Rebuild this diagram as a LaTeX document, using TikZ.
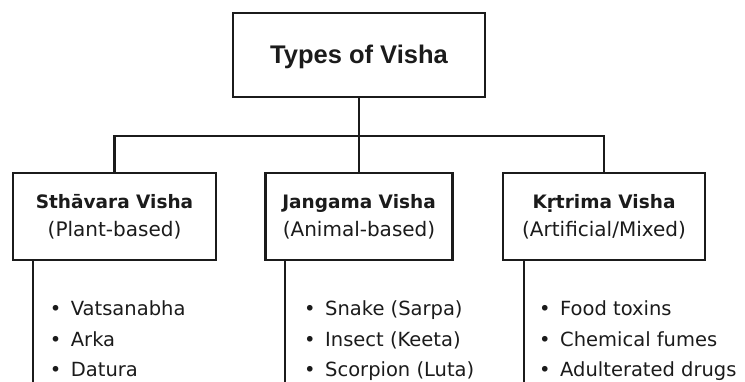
\documentclass[tikz,border=0pt]{standalone}
\usepackage{fontspec}
\setmainfont{DejaVu Sans}
\newfontfamily\headfont{Liberation Sans}
\usetikzlibrary{positioning,calc}
\definecolor{ink}{HTML}{1B1B1B}
\tikzset{
  every node/.style={text=ink},
  link/.style={draw=ink,line width=2.3pt},
  rootbox/.style={draw=ink,line width=2.5pt,fill=white,minimum width=252pt,minimum height=84pt,inner sep=0pt,
    font=\headfont\bfseries\fontsize{25.5}{30}\selectfont,execute at begin node=\rule{0pt}{22pt}},
  typebox/.style={draw=ink,line width=2.5pt,fill=white,minimum height=87pt,inner sep=0pt,align=center,
    font=\fontsize{20}{28}\selectfont,execute at begin node=\rule{0pt}{17.6pt}},
  item/.style={font=\fontsize{19.5}{24}\selectfont,anchor=base west,inner sep=0pt}
}
\begin{document}
\begin{tikzpicture}[x=1pt,y=-1pt]
  \path[use as bounding box] (0,0) rectangle (745,382);
  \node[rootbox] (root) at (359,55) {Types of Visha};

  \node[typebox,minimum width=203pt] (sthavara) at (114.5,216.5) {\textbf{\fontsize{18.5}{28}\selectfont Sthāvara Visha}\\(Plant-based)};
  \node[typebox,minimum width=187pt] (jangama) at (359,216.5) {\textbf{\fontsize{18.5}{28}\selectfont Jangama Visha}\\(Animal-based)};
  \node[typebox,minimum width=202pt] (krtrima) at (604,216.5) {\textbf{\fontsize{18.5}{28}\selectfont Kṛtrima Visha}\\(Artificial/Mixed)};

  % tree connectors
  \draw[link] (root.south) -- ++(0,38) coordinate (hub);
  \draw[link] (sthavara.north) |- (hub) -| (krtrima.north);
  \draw[link] (hub) -- (jangama.north);

  % stems under each type
  \draw[link] ([xshift=21pt]sthavara.south west) -- ++(0,130);
  \draw[link] ([xshift=21pt]jangama.south west) -- ++(0,130);
  \draw[link] ([xshift=22pt]krtrima.south west) -- ++(0,130);

  % examples
  \foreach \t [count=\i] in {Vatsanabha,Arka,Datura}
    \node[item] (plant\i) at (49.7,285.5+30.5*\i) {\makebox[21pt][l]{•}\t};
  \foreach \t [count=\i] in {Snake (Sarpa),Insect (Keeta),Scorpion (Luta)}
    \node[item] (animal\i) at (304,285.5+30.5*\i) {\makebox[21pt][l]{•}\t};
  \foreach \t [count=\i] in {Food toxins,Chemical fumes,Adulterated drugs}
    \node[item] (mixed\i) at (539,285.5+30.5*\i) {\makebox[21pt][l]{•}\t};
\end{tikzpicture}
\end{document}
